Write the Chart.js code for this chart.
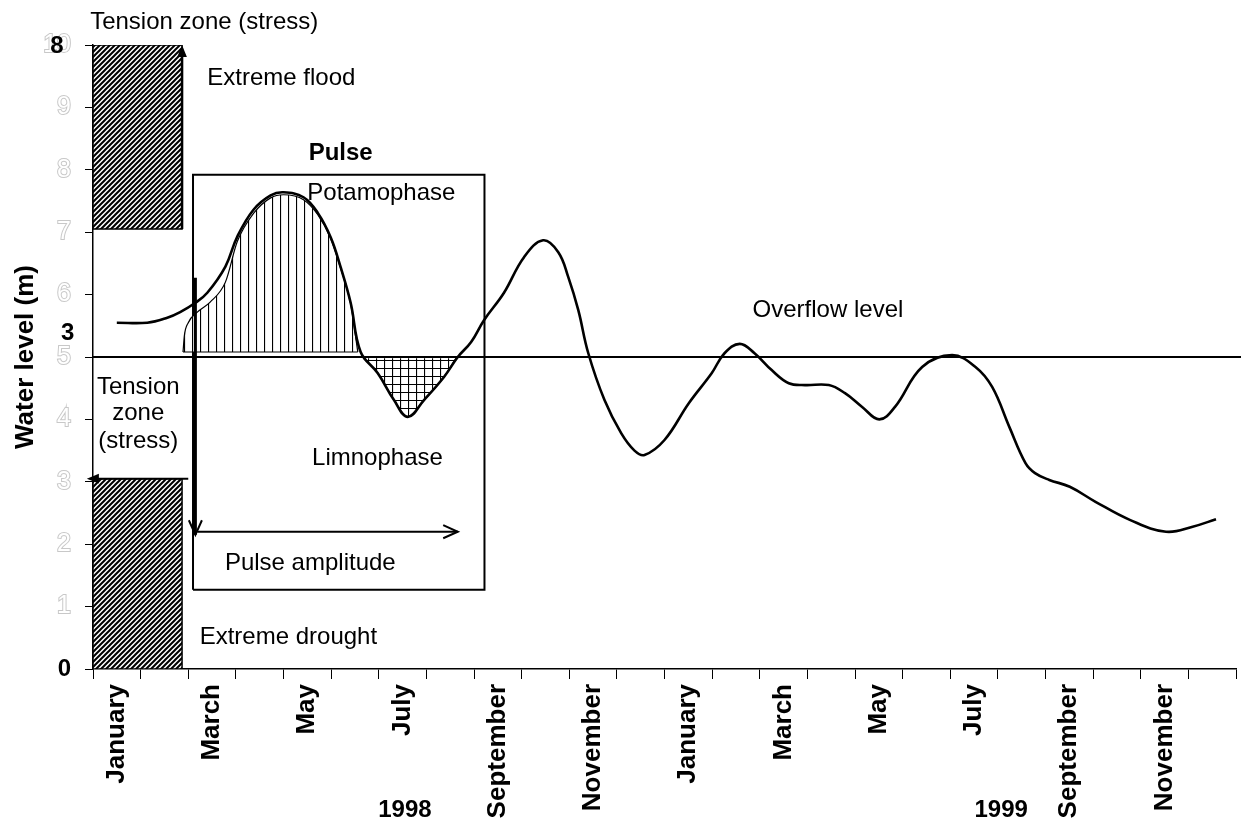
<!DOCTYPE html>
<html>
<head>
<meta charset="utf-8">
<script src="https://cdn.jsdelivr.net/npm/chart.js@4.4.0/dist/chart.umd.min.js"></script>
<style>
  html, body { margin: 0; padding: 0; background: #fff; }
  #wrap { width: 1241px; height: 824px; position: relative; }
</style>
</head>
<body>
<div id="wrap"><canvas id="chart"></canvas></div>
<script>
// x = months since 1 January 1998, y = water level (m)
const monthLabels = ['January', '', 'March', '', 'May', '', 'July', '', 'September', '', 'November', '',
                     'January', '', 'March', '', 'May', '', 'July', '', 'September', '', 'November', ''];
const yearLabels = ['1998', '1999'];

// Water level curve
const levelMonths = [0.5, 1.14, 1.56, 1.83, 2.15, 2.4, 2.78, 3.03, 3.37, 3.73, 4.0, 4.42, 4.72, 4.99, 5.2, 5.41,
                     5.62, 5.98, 6.32, 6.61, 6.95, 7.37, 7.66, 7.94, 8.21, 8.63, 9.05, 9.45, 9.77, 9.98, 10.19,
                     10.4, 10.74, 11.09, 11.37, 11.58, 12.0, 12.51, 12.99, 13.26, 13.58, 13.89, 14.25, 14.61,
                     14.95, 15.45, 15.79, 16.15, 16.51, 16.84, 17.41, 18.04, 18.53, 18.88, 19.24, 19.58, 19.78,
                     20.08, 20.51, 21.05, 21.77, 22.53, 23.09, 23.58];
const levelValues = [5.55, 5.55, 5.63, 5.72, 5.87, 6.03, 6.45, 6.93, 7.36, 7.59, 7.64, 7.56, 7.31, 6.92, 6.44, 5.87,
                     5.08, 4.74, 4.31, 4.04, 4.31, 4.68, 5.0, 5.24, 5.59, 6.03, 6.6, 6.87, 6.68, 6.28, 5.75,
                     5.06, 4.31, 3.78, 3.5, 3.43, 3.67, 4.26, 4.74, 5.06, 5.21, 5.06, 4.79, 4.58,
                     4.55, 4.55, 4.42, 4.2, 4.0, 4.2, 4.84, 5.03, 4.84, 4.52, 3.88, 3.3, 3.14,
                     3.03, 2.92, 2.68, 2.39, 2.2, 2.28, 2.4];

// Potamophase (above overflow) and limnophase (below overflow)
const potamoMonths = [1.89, 1.92, 2.0, 2.19, 2.46, 2.78, 3.03, 3.37, 3.73, 4.0, 4.42, 4.72, 4.99, 5.2, 5.41, 5.56];
const potamoValues = [5.08, 5.35, 5.55, 5.72, 5.88, 6.2, 6.85, 7.3, 7.55, 7.6, 7.52, 7.28, 6.9, 6.42, 5.85, 5.08];
const limnoMonths = [5.68, 5.98, 6.32, 6.61, 6.95, 7.37, 7.62];
const limnoValues = [4.98, 4.74, 4.31, 4.04, 4.31, 4.68, 4.98];

const overflowLevel = 5;
const overflowSpan = [0, 24.2];
const floodZone = [7.05, 10];
const droughtZone = [0, 3.05];
const zoneMonths = [0, 1.87];
const pulseBoxMonths = [2.1, 8.22];
const pulseBoxLevels = [1.27, 7.92];

// Annotations (anchor in months / metres)
const notes = [
  { text: 'Tension zone (stress)', at: [-0.06, 10.37], align: 'left' },
  { text: 'Extreme flood', at: [2.4, 9.47], align: 'left' },
  { text: 'Pulse', at: [5.2, 8.27], align: 'center', bold: true },
  { text: 'Potamophase', at: [4.5, 7.63], align: 'left' },
  { text: 'Overflow level', at: [13.85, 5.75], align: 'left' },
  { text: 'Limnophase', at: [4.6, 3.37], align: 'left' },
  { text: 'Pulse amplitude', at: [2.77, 1.7], align: 'left' },
  { text: 'Extreme drought', at: [2.24, 0.51], align: 'left' },
  { text: 'Tension', at: [0.95, 4.52], align: 'center' },
  { text: 'zone', at: [0.95, 4.09], align: 'center' },
  { text: '(stress)', at: [0.95, 3.64], align: 'center' },
  { text: '8', at: [-0.76, 9.97], align: 'center', bold: true },
  { text: '3', at: [-0.53, 5.38], align: 'center', bold: true },
  { text: yearLabels[0], at: [6.55, -2.27], align: 'center', bold: true },
  { text: yearLabels[1], at: [19.07, -2.27], align: 'center', bold: true }
];
const arrows = [
  { from: [1.87, 7.05], to: [1.87, 10.0], head: 'solid', width: 2.5 },
  { from: [2.0, 3.05], to: [-0.13, 3.05], head: 'solid', width: 2 },
  { from: [2.15, 6.27], to: [2.15, 2.15], head: 'open', width: 3 },
  { from: [2.19, 2.2], to: [7.66, 2.2], head: 'open', width: 2 }
];

const FONT = '"Liberation Sans", Arial, sans-serif';
Chart.defaults.font.family = FONT;
Chart.defaults.color = '#000';

function pts(xs, ys) {
  return xs.map((x, i) => ({ x: x, y: ys[i] }));
}

function isZero(c) {
  return !!(c && c.tick && c.tick.value === 0);
}

function makePattern(kind) {
  const s = kind === 'diag' ? 5 : 8;
  const c = document.createElement('canvas');
  c.width = s; c.height = s;
  const g = c.getContext('2d');
  g.fillStyle = '#fff';
  g.fillRect(0, 0, s, s);
  g.strokeStyle = '#000';
  g.beginPath();
  if (kind === 'diag') {
    g.lineWidth = 2;
    g.moveTo(-1, s + 1); g.lineTo(s + 1, -1);
    g.moveTo(-2, 2); g.lineTo(2, -2);
    g.moveTo(s - 2, s + 2); g.lineTo(s + 2, s - 2);
  } else {
    g.lineWidth = 1.2;
    g.moveTo(0.5, 0); g.lineTo(0.5, s);
    if (kind === 'grid') { g.moveTo(0, 0.5); g.lineTo(s, 0.5); }
  }
  g.stroke();
  return g.createPattern(c, 'repeat');
}

function rectPts(xs, ys) {
  return [{ x: xs[0], y: ys[0] }, { x: xs[1], y: ys[0] }, { x: xs[1], y: ys[1] },
          { x: xs[0], y: ys[1] }, { x: xs[0], y: ys[0] }];
}

function drawArrow(ctx, x1, y1, x2, y2, head, w) {
  const a = Math.atan2(y2 - y1, x2 - x1);
  const L = head === 'open' ? 16 : 13;
  const spread = head === 'open' ? 0.42 : 0.38;
  ctx.save();
  ctx.strokeStyle = '#000';
  ctx.fillStyle = '#000';
  ctx.lineWidth = w;
  ctx.beginPath();
  ctx.moveTo(x1, y1);
  if (head === 'open') ctx.lineTo(x2, y2);
  else ctx.lineTo(x2 - L * 0.7 * Math.cos(a), y2 - L * 0.7 * Math.sin(a));
  ctx.stroke();
  const ax = x2 - L * Math.cos(a - spread), ay = y2 - L * Math.sin(a - spread);
  const bx = x2 - L * Math.cos(a + spread), by = y2 - L * Math.sin(a + spread);
  ctx.beginPath();
  if (head === 'open') {
    ctx.lineWidth = 2;
    ctx.moveTo(ax, ay); ctx.lineTo(x2, y2); ctx.lineTo(bx, by);
    ctx.stroke();
  } else {
    ctx.moveTo(x2, y2); ctx.lineTo(ax, ay); ctx.lineTo(bx, by); ctx.closePath();
    ctx.fill();
  }
  ctx.restore();
}

const annotate = {
  id: 'annotate',
  afterDraw(chart) {
    const { ctx } = chart;
    const x = chart.scales.x, y = chart.scales.y;
    arrows.forEach(a => drawArrow(ctx,
      x.getPixelForValue(a.from[0]), y.getPixelForValue(a.from[1]),
      x.getPixelForValue(a.to[0]), y.getPixelForValue(a.to[1]), a.head, a.width));
    ctx.save();
    ctx.fillStyle = '#000';
    ctx.textBaseline = 'middle';
    notes.forEach(n => {
      ctx.font = (n.bold ? 'bold ' : '') + '24px ' + FONT;
      ctx.textAlign = n.align;
      ctx.fillText(n.text, x.getPixelForValue(n.at[0]), y.getPixelForValue(n.at[1]));
    });
    ctx.restore();
  }
};

const diag = makePattern('diag');
const vLines = makePattern('vertical');
const grid = makePattern('grid');

const ctx = document.getElementById('chart').getContext('2d');
new Chart(ctx, {
  type: 'line',
  data: {
    datasets: [
      {
        label: 'Water level',
        data: pts(levelMonths, levelValues),
        borderColor: '#000', borderWidth: 2.6, pointRadius: 0,
        tension: 0.4, fill: false, order: 0
      },
      {
        label: 'Overflow level',
        data: pts(overflowSpan, [overflowLevel, overflowLevel]),
        borderColor: '#000', borderWidth: 2, pointRadius: 0, fill: false, clip: false, order: 1
      },
      {
        label: 'Potamophase',
        data: pts(potamoMonths, potamoValues),
        borderColor: '#000', borderWidth: 1.2, pointRadius: 0,
        cubicInterpolationMode: 'monotone',
        fill: { value: potamoValues[0] }, backgroundColor: vLines, order: 3
      },
      {
        label: 'Potamophase base',
        data: pts([potamoMonths[0], potamoMonths[potamoMonths.length - 1]], [potamoValues[0], potamoValues[0]]),
        borderColor: '#000', borderWidth: 1, pointRadius: 0, fill: false, order: 2
      },
      {
        label: 'Limnophase',
        data: pts(limnoMonths, limnoValues),
        borderColor: '#000', borderWidth: 1.2, pointRadius: 0,
        cubicInterpolationMode: 'monotone',
        fill: { value: limnoValues[0] }, backgroundColor: grid, order: 3
      },
      {
        label: 'Flood zone',
        data: pts(zoneMonths, [floodZone[1], floodZone[1]]),
        borderWidth: 0, pointRadius: 0,
        fill: { value: floodZone[0] }, backgroundColor: diag, order: 5
      },
      {
        label: 'Flood zone outline',
        data: rectPts(zoneMonths, floodZone),
        borderColor: '#000', borderWidth: 1.5, pointRadius: 0, fill: false, order: 4
      },
      {
        label: 'Drought zone',
        data: pts(zoneMonths, [droughtZone[1], droughtZone[1]]),
        borderWidth: 0, pointRadius: 0,
        fill: { value: droughtZone[0] }, backgroundColor: diag, order: 5
      },
      {
        label: 'Drought zone outline',
        data: rectPts(zoneMonths, droughtZone),
        borderColor: '#000', borderWidth: 1.5, pointRadius: 0, fill: false, order: 4
      },
      {
        label: 'Pulse',
        data: rectPts(pulseBoxMonths, pulseBoxLevels),
        borderColor: '#000', borderWidth: 2, pointRadius: 0, fill: false, order: 4
      }
    ]
  },
  options: {
    responsive: true,
    maintainAspectRatio: false,
    animation: false,
    layout: { padding: { top: 45, right: 5, left: 0, bottom: 0 } },
    plugins: {
      legend: { display: false },
      tooltip: { enabled: false }
    },
    scales: {
      x: {
        type: 'linear',
        min: 0,
        max: 24,
        display: false
      },
      months: {
        type: 'category',
        position: 'bottom',
        labels: monthLabels,
        offset: true,
        afterFit: scale => {
          scale.height = 155;
          scale.paddingLeft = 0;
          scale.paddingRight = 0;
        },
        grid: { offset: true, drawOnChartArea: false, color: '#000', tickLength: 10, lineWidth: 1 },
        border: { color: '#000', width: 1.5 },
        ticks: {
          autoSkip: false, minRotation: 90, maxRotation: 90, padding: 5,
          color: '#000', font: { size: 26, weight: 'bold' }
        }
      },
      y: {
        type: 'linear',
        min: 0,
        max: 10,
        afterFit: scale => { scale.width = 93; },
        grid: { drawOnChartArea: false, color: '#000', tickLength: 8 },
        border: { color: '#000', width: 1.5 },
        ticks: {
          stepSize: 1,
          padding: 14,
          color: c => isZero(c) ? '#000' : '#fff',
          textStrokeColor: '#c8c8c8',
          textStrokeWidth: c => isZero(c) ? 0 : 2,
          font: c => isZero(c) ? { size: 24, weight: 'bold' } : { size: 25 }
        },
        title: {
          display: true,
          text: 'Water level (m)',
          color: '#000',
          font: { size: 26, weight: 'bold' },
          padding: { top: 10, bottom: 0 }
        }
      }
    }
  },
  plugins: [annotate]
});
</script>
</body>
</html>
